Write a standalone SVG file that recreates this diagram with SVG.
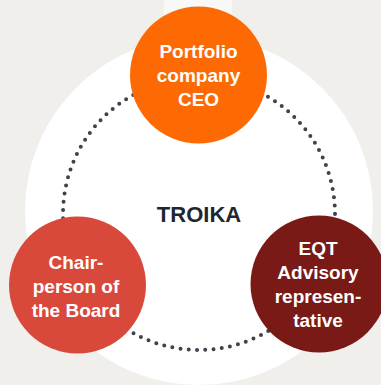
<svg xmlns="http://www.w3.org/2000/svg" width="381" height="385" viewBox="0 0 381 385">
<style>
.lbl{font-family:"Liberation Sans",Arial,sans-serif;font-weight:bold;font-size:19px;fill:#ffffff;text-anchor:middle}
.title{font-family:"Liberation Sans",Arial,sans-serif;font-weight:bold;font-size:22px;fill:#1f2630;text-anchor:middle}
.dots{fill:none;stroke:#3d424b;stroke-width:4;stroke-linecap:round;stroke-dasharray:0 8.29}
</style>
<rect width="381" height="385" fill="#f0efec"/>
<rect x="164" y="0" width="68" height="60" fill="#f8f8f7"/>
<circle cx="199" cy="211" r="174" fill="#ffffff"/>
<g id="connectors">
<circle class="dots" cx="199" cy="214" r="136"/>
</g>
<text class="title" x="199" y="222">TROIKA</text>
<g id="ceo">
<circle cx="198.5" cy="75" r="68.5" fill="#fd6a03"/>
<text class="lbl" x="198.5" y="58">Portfolio</text>
<text class="lbl" x="198.5" y="82">company</text>
<text class="lbl" x="198.5" y="106">CEO</text>
</g>
<g id="chair">
<circle cx="77.5" cy="285" r="68.5" fill="#d8493b"/>
<text class="lbl" x="76" y="269">Chair-</text>
<text class="lbl" x="76" y="293">person of</text>
<text class="lbl" x="76" y="317">the Board</text>
</g>
<g id="eqt">
<circle cx="319" cy="284" r="68.5" fill="#791a16"/>
<text class="lbl" x="318" y="255">EQT</text>
<text class="lbl" x="318" y="279">Advisory</text>
<text class="lbl" x="318" y="303">represen-</text>
<text class="lbl" x="318" y="327">tative</text>
</g>
</svg>
